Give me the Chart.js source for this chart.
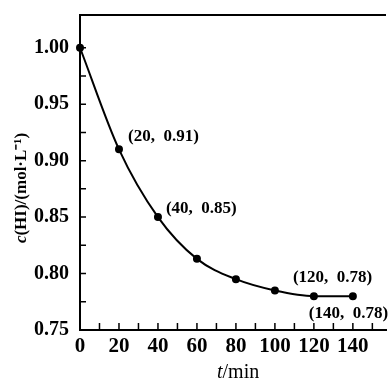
<!DOCTYPE html>
<html>
<head>
<meta charset="utf-8">
<script src="https://cdn.jsdelivr.net/npm/chart.js@4.4.0/dist/chart.umd.min.js"></script>
<style>
  body { margin: 0; background: #fff; }
  #wrap { width: 391px; height: 383px; position: relative; }
</style>
</head>
<body>
<div id="wrap"><canvas id="chart"></canvas></div>
<script>
// data
const times = [0, 20, 40, 60, 80, 100, 120, 140];
const conc = [1.00, 0.91, 0.85, 0.813, 0.795, 0.785, 0.78, 0.78];
const xTicks = [0, 20, 40, 60, 80, 100, 120, 140];
const yTicks = [0.75, 0.80, 0.85, 0.90, 0.95, 1.00];
const labelled = [1, 2, 6, 7];
const labelOffsets = [[9, -13], [8, -8], [-21, -19], [-44, 17]];

const serif = "'Liberation Serif', 'Times New Roman', serif";

const decor = {
  id: 'decor',
  afterDraw(chart) {
    const ctx = chart.ctx;
    const a = chart.chartArea;
    const xs = chart.scales.x, ys = chart.scales.y;
    ctx.save();
    ctx.strokeStyle = '#000';
    ctx.fillStyle = '#000';
    // top frame line
    ctx.lineWidth = 2;
    ctx.beginPath();
    ctx.moveTo(a.left, a.top);
    ctx.lineTo(a.right, a.top);
    ctx.stroke();
    // inward ticks
    ctx.lineWidth = 1.5;
    ctx.beginPath();
    for (let v = 10; v <= 150; v += 10) {
      const px = xs.getPixelForValue(v);
      ctx.moveTo(px, a.bottom);
      ctx.lineTo(px, a.bottom - 7);
    }
    for (let v = 0.775; v < 1.02; v += 0.025) {
      const py = ys.getPixelForValue(v);
      ctx.moveTo(a.left, py);
      ctx.lineTo(a.left + 6, py);
    }
    ctx.stroke();
    // point labels
    ctx.font = "bold 17px " + serif;
    ctx.textBaseline = 'middle';
    ctx.textAlign = 'left';
    labelled.forEach((i, k) => {
      const px = xs.getPixelForValue(times[i]);
      const py = ys.getPixelForValue(conc[i]);
      const txt = '(' + times[i] + ',  ' + conc[i].toFixed(2) + ')';
      ctx.fillText(txt, px + labelOffsets[k][0], py + labelOffsets[k][1]);
    });
    // x axis title
    ctx.font = "italic 20px " + serif;
    const x0 = 217, y0 = 373;
    ctx.fillText('t', x0, y0);
    const w = ctx.measureText('t').width;
    ctx.font = "20px " + serif;
    ctx.fillText('/min', x0 + w, y0);
    // y axis title
    ctx.translate(22, 188);
    ctx.rotate(-Math.PI / 2);
    const parts = [['c', 'italic bold 17px '], ['(HI)/(mol·L', 'bold 17px '], ['⁻¹', 'bold 17px '], [')', 'bold 17px ']];
    let total = 0;
    parts.forEach(p => { ctx.font = p[1] + serif; total += ctx.measureText(p[0]).width; });
    let cx = -total / 2;
    parts.forEach(p => {
      ctx.font = p[1] + serif;
      ctx.fillText(p[0], cx, 0);
      cx += ctx.measureText(p[0]).width;
    });
    ctx.restore();
  }
};

new Chart(document.getElementById('chart'), {
  type: 'line',
  data: {
    datasets: [{
      data: times.map((t, i) => ({ x: t, y: conc[i] })),
      borderColor: '#000',
      backgroundColor: '#000',
      borderWidth: 2,
      pointRadius: 3,
      pointHoverRadius: 3,
      cubicInterpolationMode: 'monotone',
      clip: false
    }]
  },
  options: {
    responsive: true,
    maintainAspectRatio: false,
    animation: false,
    events: [],
    layout: { padding: { top: 10, right: 0, left: 0, bottom: 0 } },
    plugins: { legend: { display: false }, tooltip: { enabled: false } },
    scales: {
      x: {
        type: 'linear',
        min: 0,
        max: 157,
        afterBuildTicks: s => { s.ticks = xTicks.map(v => ({ value: v })); },
        afterFit: s => { s.height = 53; },
        grid: { display: false },
        border: { display: true, color: '#000', width: 2 },
        ticks: { color: '#000', padding: -4, maxRotation: 0, autoSkip: false, font: { family: serif, size: 21, weight: 'bold' } }
      },
      y: {
        min: 0.75,
        max: 1.029,
        afterBuildTicks: s => { s.ticks = yTicks.map(v => ({ value: v })); },
        afterFit: s => { s.width = 80; },
        grid: { display: false },
        border: { display: true, color: '#000', width: 2 },
        ticks: { color: '#000', padding: 3, autoSkip: false, callback: v => v.toFixed(2), font: { family: serif, size: 20, weight: 'bold' } }
      }
    }
  },
  plugins: [decor]
});
</script>
</body>
</html>
